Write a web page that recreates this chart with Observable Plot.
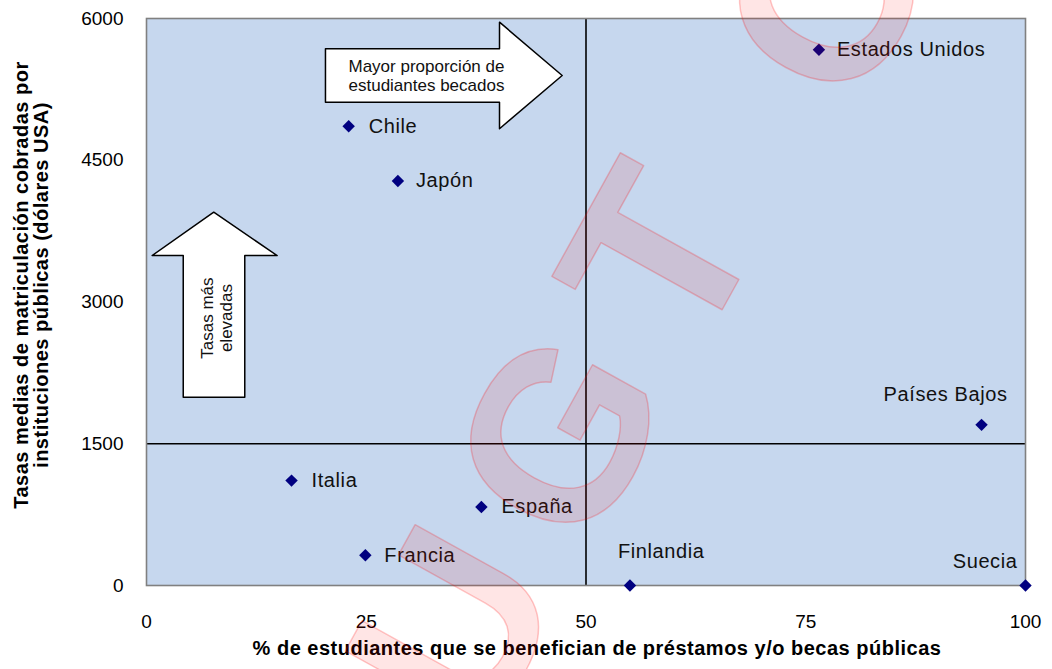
<!DOCTYPE html>
<html>
<head>
<meta charset="utf-8">
<script src="https://cdn.jsdelivr.net/npm/d3@7"></script>
<script src="https://cdn.jsdelivr.net/npm/@observablehq/plot@0.6"></script>
<style>
  html, body { margin: 0; padding: 0; background: #fff; }
  #chart svg { display: block; }
</style>
</head>
<body>
<div id="chart"></div>
<script>
// ---- Data ----
const countries = ["Estados Unidos", "Chile", "Japón", "Países Bajos", "Italia", "España", "Francia", "Finlandia", "Suecia"];
const pctBeneficiarios = [76.5, 23.0, 28.6, 95.0, 16.5, 38.1, 24.9, 55.0, 100.0];
const tasasMedias = [5670, 4860, 4280, 1700, 1110, 830, 320, 0, 0];
const xTicks = [0, 25, 50, 75, 100];
const yTicks = [0, 1500, 3000, 4500, 6000];
const xTitle = "% de estudiantes que se benefician de préstamos y/o becas públicas";
const yTitle = "Tasas medias de matriculación cobradas por\ninstituciones públicas (dólares USA)";
const refX = [50];
const refY = [1500];

// annotation arrows (outline vertices in data units)
const arrowRightX = [20.36, 40.16, 40.16, 47.29, 40.16, 40.16, 20.36, 20.36];
const arrowRightY = [5679, 5679, 5961, 5397, 4833, 5114, 5114, 5679];
const arrowRightText = "Mayor proporción de\nestudiantes becados";
const arrowUpX = [4.18, 4.18, 0.64, 7.65, 14.86, 11.18, 11.18, 4.18];
const arrowUpY = [1993, 3492, 3492, 3950, 3492, 3492, 1993, 1993];
const arrowUpText = "Tasas más\nelevadas";

// watermark letters (anchor of each glyph in data units)
const watermarkLetters = ["U", "G", "T", "O"];
const watermarkX = [35.4, 47.45, 58.8, 78.0];
const watermarkY = [-476, 1556, 3471, 6222];

// ---- Build tables ----
const points = countries.map((c, i) => ({country: c, x: pctBeneficiarios[i], y: tasasMedias[i]}));
const arrowRight = arrowRightX.map((x, i) => ({x, y: arrowRightY[i]}));
const arrowUp = arrowUpX.map((x, i) => ({x, y: arrowUpY[i]}));
const watermark = watermarkLetters.map((t, i) => ({t, x: watermarkX[i], y: watermarkY[i]}));

// label placement (style, not data)
const placement = {
  "Estados Unidos": {textAnchor: "start", dx: 18, dy: 0},
  "Chile": {textAnchor: "start", dx: 20, dy: 0},
  "Japón": {textAnchor: "start", dx: 18, dy: 0},
  "Países Bajos": {textAnchor: "middle", dx: -36, dy: -30},
  "Italia": {textAnchor: "start", dx: 20, dy: 0},
  "España": {textAnchor: "start", dx: 20, dy: 0},
  "Francia": {textAnchor: "start", dx: 19, dy: 0},
  "Finlandia": {textAnchor: "start", dx: -12, dy: -34},
  "Suecia": {textAnchor: "end", dx: -8, dy: -24}
};

const font = '"Liberation Sans", Arial, Helvetica, sans-serif';

const labelMarks = points.map(p => Plot.text([p], {
  x: "x", y: "y", text: "country",
  textAnchor: placement[p.country].textAnchor,
  dx: placement[p.country].dx, dy: placement[p.country].dy,
  fontSize: 20, fill: "#111"
}));

const chart = Plot.plot({
  width: 1052,
  height: 669,
  marginLeft: 146,
  marginRight: 27,
  marginTop: 18,
  marginBottom: 84,
  x: {domain: [0, 100]},
  y: {domain: [0, 6000]},
  style: {fontFamily: font, fontSize: "19px", color: "#000", background: "#fff", overflow: "visible"},
  marks: [
    Plot.frame({fill: "#c6d7ee", stroke: "none"}),
    Plot.axisX({ticks: xTicks, tickSize: 0, tickPadding: 29, label: null, fontSize: 19, tickFormat: d => String(d)}),
    Plot.axisY({ticks: yTicks, tickSize: 0, tickPadding: 23, label: null, fontSize: 19, tickFormat: d => String(d)}),
    Plot.ruleX(refX, {stroke: "#000", strokeWidth: 1.6}),
    Plot.ruleY(refY, {stroke: "#000", strokeWidth: 1.6}),
    Plot.line(arrowRight, {x: "x", y: "y", fill: "#fff", stroke: "#000", strokeWidth: 1.5, curve: "linear"}),
    Plot.line(arrowUp, {x: "x", y: "y", fill: "#fff", stroke: "#000", strokeWidth: 1.5, curve: "linear"}),
    Plot.text([arrowRightText], {x: 31.85, y: 5400, text: d => d, fontSize: 17, lineHeight: 1.15, fill: "#111"}),
    Plot.text([arrowUpText], {x: 8.0, y: 2830, text: d => d, fontSize: 17, lineHeight: 1.12, rotate: -90, fill: "#111"}),
    Plot.frame({stroke: "#808080", strokeWidth: 1.6}),
    Plot.dot(points, {x: "x", y: "y", symbol: "diamond2", r: 5.6, fill: "#000080", stroke: "none"}),
    ...labelMarks,
    Plot.text([xTitle], {frameAnchor: "bottom", dy: 69, dx: 11, text: d => d, fontSize: 20, fontWeight: "bold", fill: "#000"}),
    Plot.text([yTitle], {frameAnchor: "left", textAnchor: "middle", dx: -115, dy: -17, rotate: -90, text: d => d, fontSize: 20, fontWeight: "bold", lineHeight: 1.0, fill: "#000"}),
    Plot.text(watermark, {x: "x", y: "y", text: "t", rotate: -61, fontSize: 240, fontWeight: "bold",
      fill: "red", fillOpacity: 0.1, stroke: "red", strokeOpacity: 0.22, strokeWidth: 1.5})
  ]
});

// fine letter spacing to mimic the original rendering
d3.select(chart).selectAll("text").each(function () {
  const t = this.textContent;
  if (countries.includes(t)) this.style.letterSpacing = "0.6px";
  else if (t === xTitle || t.startsWith("Tasas medias")) this.style.letterSpacing = "0.5px";
});

document.getElementById("chart").appendChild(chart);
</script>
</body>
</html>
